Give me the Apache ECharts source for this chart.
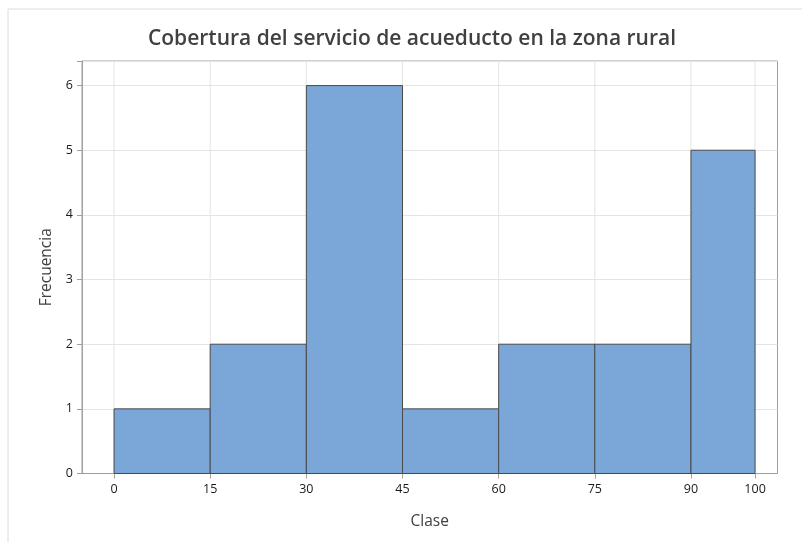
<!DOCTYPE html>
<html>
<head>
<meta charset="utf-8">
<script src="https://cdn.jsdelivr.net/npm/echarts@6/dist/echarts.min.js"></script>
<style>html,body{margin:0;padding:0;background:#fff}#c{width:802px;height:542px}</style>
</head>
<body>
<div id="c"></div>
<script>
const binStart = [0, 15, 30, 45, 60, 75, 90];
const binEnd = [15, 30, 45, 60, 75, 90, 100];
const freq = [1, 2, 6, 1, 2, 2, 5];
const xTicks = [0, 15, 30, 45, 60, 75, 90, 100];
const yTicks = [0, 1, 2, 3, 4, 5, 6];
const titleText = 'Cobertura del servicio de acueducto en la zona rural';
const xName = 'Clase';
const yName = 'Frecuencia';

const chart = echarts.init(document.getElementById('c'), null, {renderer: 'canvas'});
const FONT = 'Open Sans';
const data = binStart.map((s, i) => [s, binEnd[i], freq[i]]);

chart.setOption({
  animation: false,
  backgroundColor: '#fff',
  graphic: [{
    type: 'rect', shape: {x: 8, y: 9, width: 800, height: 540},
    style: {fill: 'none', stroke: '#dcdcdc', lineWidth: 1}, silent: true, z: -1
  }],
  title: {
    text: titleText, left: 407, top: 24, textAlign: 'center',
    textStyle: {fontFamily: FONT, fontSize: 21, fontWeight: 600, color: '#404040'}
  },
  grid: {left: 82, top: 61, width: 695.5, height: 412.5, show: true, borderColor: '#a0a0a0', borderWidth: 1, containLabel: false},
  xAxis: {
    type: 'value', min: -5, max: 103.5,
    name: xName, nameLocation: 'middle', nameGap: 40,
    nameTextStyle: {fontFamily: FONT, fontSize: 15.5, color: '#404040'},
    axisLine: {show: true, onZero: false, lineStyle: {color: '#a0a0a0'}},
    axisTick: {show: true, customValues: xTicks, length: 5, lineStyle: {color: '#a0a0a0'}},
    axisLabel: {customValues: xTicks, fontFamily: FONT, fontSize: 12.5, color: '#1a1a1a', margin: 9},
    splitLine: {show: false}
  },
  yAxis: {
    type: 'value', min: 0, max: 6.38, interval: 1,
    name: yName, nameLocation: 'middle', nameGap: 26,
    nameTextStyle: {fontFamily: FONT, fontSize: 15.5, color: '#404040'},
    axisLine: {show: true, onZero: false, lineStyle: {color: '#a0a0a0'}},
    axisTick: {show: true, length: 5, lineStyle: {color: '#a0a0a0'}},
    axisLabel: {fontFamily: FONT, fontSize: 12.5, color: '#1a1a1a', margin: 9,
      formatter: v => yTicks.includes(v) ? String(v) : ''},
    splitLine: {show: true, lineStyle: {color: '#e4e4e4'}}
  },
  series: [{
    type: 'custom',
    data: xTicks.map(v => [v]),
    renderItem: (params, api) => {
      const v = api.value(0);
      const top = api.coord([v, 6.38]);
      const bot = api.coord([v, 0]);
      return {type: 'line', shape: {x1: top[0], y1: top[1], x2: bot[0], y2: bot[1]},
        style: {stroke: '#e4e4e4', lineWidth: 1}, silent: true};
    },
    z: 1
  }, {
    type: 'custom',
    data: data,
    encode: {x: [0, 1], y: 2},
    renderItem: (params, api) => {
      const p0 = api.coord([api.value(0), api.value(2)]);
      const p1 = api.coord([api.value(1), 0]);
      return {type: 'rect', shape: {x: p0[0], y: p0[1], width: p1[0] - p0[0], height: p1[1] - p0[1]},
        style: {fill: '#7ba6d8', stroke: '#4a4a4a', lineWidth: 1}};
    },
    z: 2
  }]
});
</script>
</body>
</html>
